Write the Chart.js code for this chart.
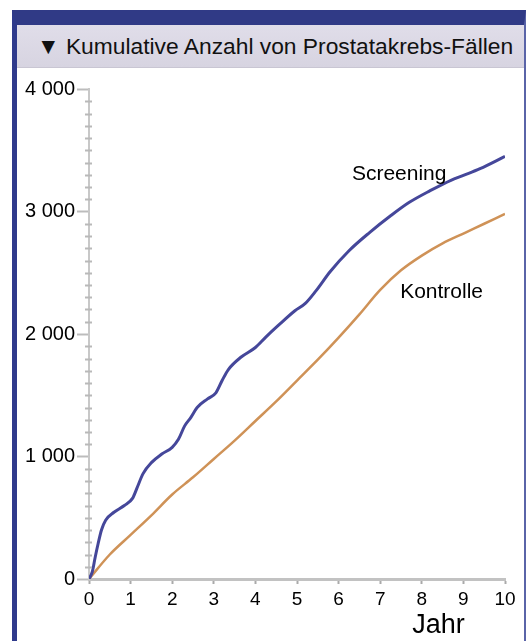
<!DOCTYPE html>
<html lang="de">
<head>
  <meta charset="UTF-8" />
  <title>Kumulative Anzahl von Prostatakrebs-Fällen</title>
  <script src="https://cdn.jsdelivr.net/npm/chart.js"></script>
  <style>
    html, body {
      margin: 0;
      padding: 0;
      background: #fff;
      width: 528px;
      height: 641px;
      overflow: hidden;
      font-family: "Liberation Sans", Arial, sans-serif;
    }
    .frame {
      position: absolute;
      left: 12px;
      top: 10px;
      width: 507px;
      height: 640px;
      border-left: 5px solid #2f3a8c;
      border-right: 2px solid #5a64a8;
      border-top: 15px solid #303a86;
      background: #fff;
    }
    .title-bar {
      height: 42px;
      line-height: 43px;
      background: linear-gradient(#e0dde9, #d7d4e1);
      border-bottom: 1px solid #c9c6d3;
      padding-left: 20px;
      font-size: 22.8px;
      color: #111;
      white-space: nowrap;
    }
    .chart-box {
      position: absolute;
      left: 0;
      top: 43px;
      width: 506px;
      height: 572px;
    }
  </style>
</head>
<body>
  <div class="frame">
    <div class="title-bar">▼ Kumulative Anzahl von Prostatakrebs-Fällen</div>
    <div class="chart-box"><canvas id="chart"></canvas></div>
  </div>

  <script>
    // Werte (Jahr / kumulative Fälle)
    const screeningJahre = [0, 0.08, 0.15, 0.22, 0.3, 0.4, 0.6, 0.85, 1.05, 1.15, 1.3, 1.5, 1.75, 2.0, 2.15, 2.3, 2.45, 2.6, 2.85, 3.05, 3.2, 3.35, 3.65, 4.0, 4.25, 4.55, 4.95, 5.2, 5.45, 5.8, 6.25, 6.75, 7.25, 7.7, 8.2, 8.7, 9.0, 9.4, 10.0];
    const screeningFaelle = [0, 60, 180, 290, 400, 480, 545, 600, 660, 740, 860, 950, 1020, 1075, 1140, 1250, 1320, 1400, 1470, 1520, 1620, 1710, 1810, 1890, 1975, 2070, 2190, 2250, 2350, 2510, 2680, 2830, 2965, 3075, 3170, 3255, 3295, 3350, 3450];

    const kontrolleJahre = [0, 0.5, 1, 1.5, 2, 2.5, 3, 3.5, 4, 4.5, 5, 5.5, 6, 6.5, 7, 7.5, 8, 8.5, 9, 9.5, 10];
    const kontrolleFaelle = [0, 200, 360, 520, 690, 830, 980, 1130, 1290, 1450, 1620, 1790, 1970, 2160, 2360, 2520, 2640, 2740, 2820, 2900, 2980];

    const xTicks = [0, 1, 2, 3, 4, 5, 6, 7, 8, 9, 10];
    const yTicks = [0, 1000, 2000, 3000, 4000];
    const serienNamen = ["Screening", "Kontrolle"];

    const schrift = '"Liberation Sans", Arial, sans-serif';

    function punkte(jahre, faelle) {
      return jahre.map((j, i) => ({ x: j, y: faelle[i] }));
    }

    function tausender(v) {
      return v === 0 ? "0" : (v / 1000) + " 000";
    }

    // kleine Striche alle 100 auf der y-Achse und Beschriftungen im Diagramm
    const extras = {
      id: "extras",
      afterDraw(chart) {
        const { ctx, scales: { x, y }, chartArea } = chart;
        ctx.save();
        ctx.strokeStyle = "#b9b9b9";
        ctx.lineWidth = 2;
        for (let v = 100; v < 4000; v += 100) {
          if (v % 1000 === 0) continue;
          const py = Math.round(y.getPixelForValue(v)) + 0.5;
          ctx.beginPath();
          ctx.moveTo(chartArea.left - 4, py);
          ctx.lineTo(chartArea.left + 3, py);
          ctx.stroke();
        }
        ctx.fillStyle = "#000";
        ctx.textBaseline = "middle";
        ctx.textAlign = "left";
        ctx.font = "21px " + schrift;
        ctx.fillText(serienNamen[0], x.getPixelForValue(6.32), y.getPixelForValue(3306));
        ctx.fillText(serienNamen[1], x.getPixelForValue(7.48), y.getPixelForValue(2343));
        ctx.font = "27px " + schrift;
        ctx.textAlign = "center";
        ctx.fillText("Jahr", x.getPixelForValue(8.4), chartArea.bottom + 47);
        ctx.restore();
      }
    };

    new Chart(document.getElementById("chart"), {
      type: "line",
      data: {
        datasets: [
          {
            label: serienNamen[0],
            data: punkte(screeningJahre, screeningFaelle),
            borderColor: "#45479a",
            borderWidth: 3,
            pointRadius: 0,
            cubicInterpolationMode: "monotone"
          },
          {
            label: serienNamen[1],
            data: punkte(kontrolleJahre, kontrolleFaelle),
            borderColor: "#cf9257",
            borderWidth: 2.5,
            pointRadius: 0,
            cubicInterpolationMode: "monotone"
          }
        ]
      },
      options: {
        responsive: true,
        maintainAspectRatio: false,
        animation: false,
        layout: { padding: { top: 21, right: 18, left: 0, bottom: 0 } },
        plugins: {
          legend: { display: false },
          tooltip: { enabled: false }
        },
        scales: {
          x: {
            type: "linear",
            min: 0,
            max: 10,
            afterBuildTicks: s => { s.ticks = xTicks.map(v => ({ value: v })); },
            afterFit: s => { s.height = 61; },
            ticks: {
              color: "#000",
              font: { size: 19, family: schrift },
              padding: 4,
              maxRotation: 0
            },
            grid: {
              drawOnChartArea: false,
              tickLength: 5,
              tickColor: "#aaa",
              tickWidth: 2
            },
            border: { color: "#c2c2c2", width: 3 }
          },
          y: {
            type: "linear",
            min: 0,
            max: 4000,
            afterBuildTicks: s => { s.ticks = yTicks.map(v => ({ value: v })); },
            afterFit: s => { s.width = 72; },
            ticks: {
              color: "#000",
              font: { size: 20, family: schrift },
              padding: 2,
              callback: v => tausender(v)
            },
            grid: {
              drawOnChartArea: false,
              tickLength: 12,
              tickColor: "#bcbcbc",
              tickWidth: 2
            },
            border: { color: "#c8c8c8", width: 2 }
          }
        }
      },
      plugins: [extras]
    });
  </script>
</body>
</html>
